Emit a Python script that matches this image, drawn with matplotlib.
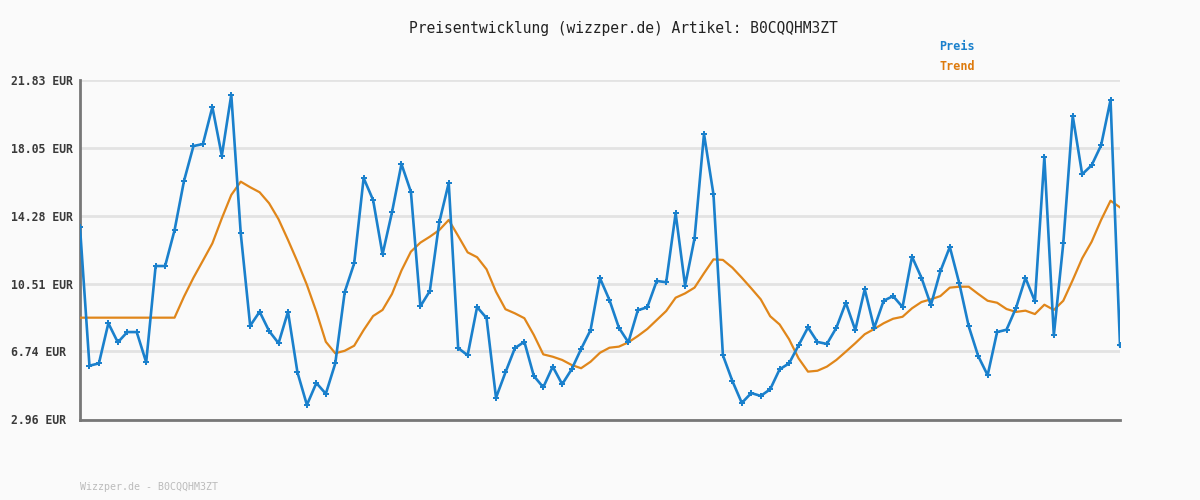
import matplotlib.pyplot as plt
import numpy as np

# price history (EUR)
preis = [
    13.64, 5.95, 6.08, 8.31, 7.25, 7.82, 7.82, 6.14, 11.49, 11.49,
    13.48, 16.22, 18.16, 18.27, 20.33, 17.62, 21.01, 13.31, 8.17, 8.95,
    7.88, 7.20, 8.95, 5.58, 3.77, 4.99, 4.39, 6.08, 10.05, 11.64,
    16.38, 15.16, 12.14, 14.48, 17.16, 15.61, 9.25, 10.10, 13.92, 16.11,
    6.93, 6.53, 9.21, 8.60, 4.17, 5.58, 6.93, 7.28, 5.38, 4.75,
    5.90, 4.92, 5.75, 6.88, 7.93, 10.81, 9.60, 8.06, 7.25, 9.03,
    9.20, 10.66, 10.59, 14.42, 10.40, 13.03, 18.83, 15.48, 6.53, 5.10,
    3.88, 4.43, 4.27, 4.64, 5.75, 6.08, 7.08, 8.08, 7.27, 7.16,
    8.06, 9.45, 7.93, 10.20, 8.05, 9.56, 9.82, 9.21, 12.01, 10.84,
    9.32, 11.20, 12.55, 10.53, 8.14, 6.49, 5.42, 7.82, 7.95, 9.16,
    10.83, 9.53, 17.55, 7.64, 12.75, 19.83, 16.59, 17.09, 18.20, 20.72,
    7.08,
]

trend = [
    8.62, 8.62, 8.62, 8.62, 8.62, 8.62, 8.62, 8.62, 8.62, 8.62,
    8.62, 9.79, 10.84, 11.79, 12.75, 14.14, 15.44, 16.18, 15.87, 15.59,
    14.98, 14.09, 12.94, 11.73, 10.44, 8.95, 7.28, 6.64, 6.78, 7.06,
    7.93, 8.71, 9.05, 9.94, 11.24, 12.29, 12.79, 13.12, 13.49, 14.05,
    13.16, 12.25, 11.98, 11.31, 10.06, 9.09, 8.86, 8.59, 7.66, 6.58,
    6.45, 6.27, 5.99, 5.81, 6.17, 6.67, 6.95, 7.01, 7.25, 7.60,
    7.99, 8.49, 8.99, 9.73, 9.97, 10.29, 11.09, 11.86, 11.83, 11.40,
    10.84, 10.25, 9.64, 8.70, 8.24, 7.42, 6.36, 5.62, 5.67, 5.90,
    6.27, 6.73, 7.20, 7.70, 7.99, 8.31, 8.56, 8.67, 9.14, 9.49,
    9.64, 9.82, 10.29, 10.34, 10.34, 9.94, 9.56, 9.45, 9.10, 8.94,
    9.01, 8.82, 9.34, 9.05, 9.56, 10.71, 11.92, 12.84, 14.05, 15.12,
    14.75,
]

y_ticks = [2.96, 6.74, 10.51, 14.28, 18.05, 21.83]
y_labels = [f'{v:.2f} EUR' for v in y_ticks]

title = 'Preisentwicklung (wizzper.de) Artikel: B0CQQHM3ZT'
footer = 'Wizzper.de - B0CQQHM3ZT'

blue = '#1a80cc'
orange = '#e0861a'
bg = '#fafafa'
mono = 'DejaVu Sans Mono'

fig = plt.figure(figsize=(12, 5), dpi=100, facecolor=bg)
ax = fig.add_axes([80 / 1200, 80.5 / 500, 1040 / 1200, 339.5 / 500])
ax.set_facecolor(bg)

x = np.arange(len(preis))
ax.plot(x, trend, color=orange, linewidth=1.6, zorder=3)
ax.plot(x, preis, color=blue, linewidth=1.9, marker='P', markersize=4,
        markeredgewidth=0, zorder=4)

ax.set_xlim(0, len(preis) - 1)
ax.set_ylim(y_ticks[0], y_ticks[-1])
ax.set_xticks([])
ax.set_yticks(y_ticks)
ax.set_yticklabels(y_labels, family=mono, fontsize=8.3, fontweight='bold',
                   color='#3a3a3a', ha='left')
ax.tick_params(axis='y', length=0, pad=50)
ax.grid(axis='y', color='#e3e3e3', linewidth=2)
ax.set_axisbelow(True)

for side in ['top', 'right']:
    ax.spines[side].set_visible(False)
for side in ['left', 'bottom']:
    ax.spines[side].set_color('#777777')
    ax.spines[side].set_linewidth(2)

fig.text(623 / 1200, 1 - 28 / 500, title, family=mono, fontsize=10.5,
         color='#222222', ha='center', va='center')
fig.text(939 / 1200, 1 - 47 / 500, 'Preis', family=mono, fontsize=8.5,
         fontweight='bold', color=blue, ha='left', va='center')
fig.text(939 / 1200, 1 - 67 / 500, 'Trend', family=mono, fontsize=8.5,
         fontweight='bold', color='#dd7a0c', ha='left', va='center')
fig.text(80 / 1200, 1 - 487 / 500, footer, family=mono, fontsize=7.2,
         color='#bbbbbb', ha='left', va='center')

fig.savefig('out.png', dpi=100, facecolor=bg)
